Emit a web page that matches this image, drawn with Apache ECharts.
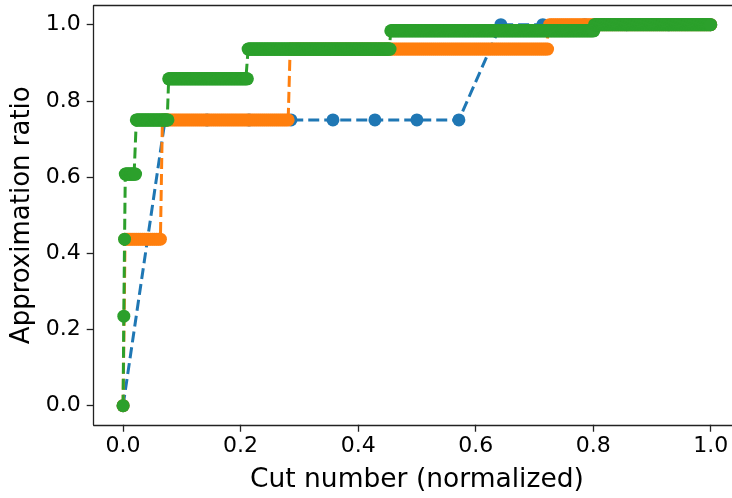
<!DOCTYPE html>
<html>
<head>
<meta charset="utf-8">
<script src="https://cdn.jsdelivr.net/npm/echarts@6/dist/echarts.min.js"></script>
<style>
html,body{margin:0;padding:0;background:#fff;}
#chart{width:732px;height:498px;}
</style>
</head>
<body>
<div id="chart"></div>
<script>
// Tick labels
const xTicks = [0, 0.2, 0.4, 0.6, 0.8, 1.0];
const yTicks = [0, 0.2, 0.4, 0.6, 0.8, 1.0];

// Blue series: approximation ratio at each cut (15 cuts)
const blueRatio = [0, 0.75, 0.75, 0.75, 0.75, 0.75, 0.75, 0.75, 0.75, 1.0, 1.0, 1.0, 1.0, 1.0, 1.0];

// Orange series (300 cuts), run-length: ratio level and number of cuts at that level
const orangeLevels = [0, 0.437, 0.75, 0.936, 1.0];
const orangeCounts = [1, 19, 65, 132, 83];

// Green series (800 cuts), run-length: ratio level and number of cuts at that level
const greenLevels = [0, 0.235, 0.437, 0.608, 0.75, 0.858, 0.936, 0.984, 1.0];
const greenCounts = [1, 1, 1, 15, 44, 108, 194, 277, 159];

function expandRuns(levels, counts) {
  const vals = [];
  levels.forEach((v, i) => { for (let k = 0; k < counts[i]; k++) vals.push(v); });
  return vals;
}
function toPoints(vals) {
  const n = vals.length;
  return vals.map((v, i) => [i / (n - 1), v]);
}

const blueData = toPoints(blueRatio);
const orangeData = toPoints(expandRuns(orangeLevels, orangeCounts));
const greenData = toPoints(expandRuns(greenLevels, greenCounts));

const font = 'DejaVu Sans';
const spine = { color: '#222', width: 1.3 };
function mkSeries(name, data, color, z) {
  return {
    name: name, type: 'line', data: data, z: z,
    xAxisIndex: 0, yAxisIndex: 0,
    symbol: 'circle', symbolSize: 13, showAllSymbol: true,
    clip: false, animation: false,
    itemStyle: { color: color },
    lineStyle: { color: color, width: 3, type: [11, 5] },
    emphasis: { disabled: true }
  };
}
function frameAxis(pos) {
  return {
    type: 'value', min: -0.05, max: 1.05, position: pos,
    axisLine: { show: true, onZero: false, lineStyle: spine },
    axisTick: { show: false }, axisLabel: { show: false }, splitLine: { show: false }
  };
}

const chart = echarts.init(document.getElementById('chart'), null, { renderer: 'canvas' });
chart.setOption({
  animation: false,
  backgroundColor: '#fff',
  grid: { left: 93.7, top: 5.65, width: 646.4, height: 419.1, outerBoundsMode: 'none', containLabel: false, show: false },
  xAxis: [{
    type: 'value', min: -0.05, max: 1.05, position: 'bottom',
    name: 'Cut number (normalized)', nameLocation: 'middle', nameGap: 42,
    nameTextStyle: { fontFamily: font, fontSize: 26.5, color: '#000' },
    axisLine: { show: true, onZero: false, lineStyle: spine },
    axisTick: { show: true, inside: false, length: 7, lineStyle: spine, customValues: xTicks },
    axisLabel: { show: true, margin: 11, fontFamily: font, fontSize: 22, color: '#000', customValues: xTicks, formatter: v => v.toFixed(1) },
    splitLine: { show: false }
  }, frameAxis('top')],
  yAxis: [{
    type: 'value', min: -0.05, max: 1.05, position: 'left',
    name: 'Approximation ratio', nameLocation: 'middle', nameGap: 56,
    nameTextStyle: { fontFamily: font, fontSize: 26, color: '#000' },
    axisLine: { show: true, onZero: false, lineStyle: spine },
    axisTick: { show: true, inside: false, length: 7, lineStyle: spine, customValues: yTicks },
    axisLabel: { show: true, margin: 13, fontFamily: font, fontSize: 22, color: '#000', customValues: yTicks, formatter: v => v.toFixed(1) },
    splitLine: { show: false }
  }, frameAxis('right')],
  series: [
    mkSeries('blue', blueData, '#1f77b4', 2),
    mkSeries('orange', orangeData, '#ff7f0e', 3),
    mkSeries('green', greenData, '#2ca02c', 4)
  ]
});
</script>
</body>
</html>
